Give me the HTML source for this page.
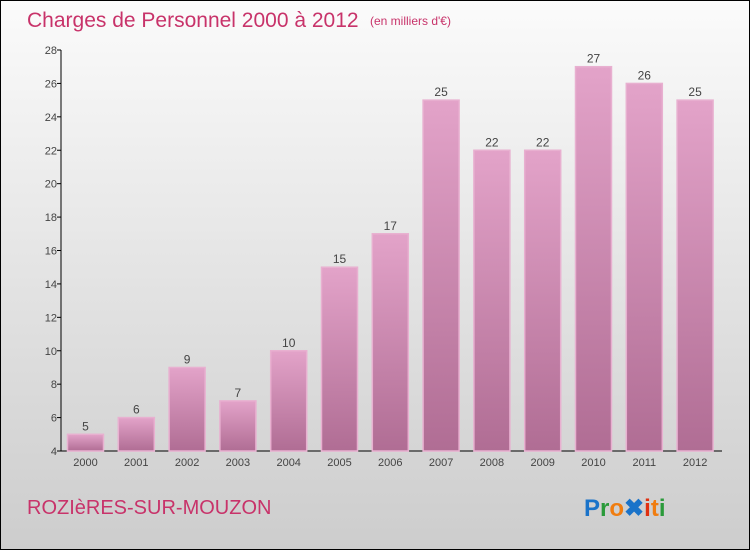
<!DOCTYPE html>
<html><head><meta charset="utf-8"><style>
body{margin:0}
#c{position:relative;width:750px;height:550px;box-sizing:border-box;border:1px solid #000;background:linear-gradient(#fbfbfb,#d8d8d8 75%,#cdcdcd);font-family:"Liberation Sans",sans-serif;overflow:hidden}
</style></head><body>
<div id="c">
<svg width="750" height="550" style="position:absolute;left:-1px;top:-1px" id="s">
<defs><linearGradient id="g" x1="0" y1="0" x2="0" y2="1"><stop offset="0" stop-color="#e3a3c9"/><stop offset="1" stop-color="#b06d94"/></linearGradient></defs>
<text x="27" y="27" font-size="21" fill="#c8336a">Charges de Personnel 2000 à 2012</text>
<text x="370" y="25" font-size="12" fill="#c8336a">(en milliers d'€)</text>
<text x="27" y="514" font-size="20" fill="#c8336a">ROZIèRES-SUR-MOUZON</text>
<text x="584" y="516" font-size="24" font-weight="bold"><tspan fill="#1a73c9">P</tspan><tspan fill="#2a9a3a">r</tspan><tspan fill="#f07d10">o</tspan><tspan fill="#1a73c9">✖</tspan><tspan fill="#e03010">i</tspan><tspan fill="#f07d10">t</tspan><tspan fill="#2a9a3a">i</tspan></text>
<g id="plot"></g>
</svg>
</div>
<script>
const years=["2000","2001","2002","2003","2004","2005","2006","2007","2008","2009","2010","2011","2012"];
const values=[5,6,9,7,10,15,17,25,22,22,27,26,25];
const yTicks=[4,6,8,10,12,14,16,18,20,22,24,26,28];
const NS="http://www.w3.org/2000/svg";
const plotG=document.getElementById("plot");
const yMin=4,yMax=28,yTop=50,yBot=451,xLeft=61,xRight=722;
const ys=v=>yBot-(v-yMin)/(yMax-yMin)*(yBot-yTop);
const step=50.8,first=85.5,bw=36;
const xs=i=>first+i*step;
function mk(t,a){const e=document.createElementNS(NS,t);for(const k in a)e.setAttribute(k,a[k]);plotG.appendChild(e);return e;}
let ax=mk("line",{x1:xLeft,y1:yTop,x2:xLeft,y2:yBot,stroke:"#000"});


let bx=mk("line",{x1:xLeft,y1:yBot,x2:xRight,y2:yBot,stroke:"#000"});


yTicks.forEach(v=>{
 let tk=mk("line",{x1:xLeft-4,y1:ys(v),x2:xLeft,y2:ys(v),stroke:"#000"});
 
 
 let t=mk("text",{x:xLeft-4,y:ys(v)+4,"font-size":11,fill:"#444","text-anchor":"end"});
 t.textContent=v;
 
 
});
values.forEach((v,i)=>{
 let r=mk("rect",{x:xs(i)-bw/2,y:ys(v),width:bw,height:yBot-ys(v),fill:"url(#g)",stroke:"#e8b0d0","stroke-width":1.5});
 
 
 let l=mk("text",{x:xs(i),y:ys(v)-4,"font-size":12,fill:"#444","text-anchor":"middle"});
 l.textContent=v;
 
 
 let x=mk("text",{x:xs(i),y:yBot+15,"font-size":11,fill:"#444","text-anchor":"middle"});
 x.textContent=years[i];
 
 
});
</script>
</body></html>
